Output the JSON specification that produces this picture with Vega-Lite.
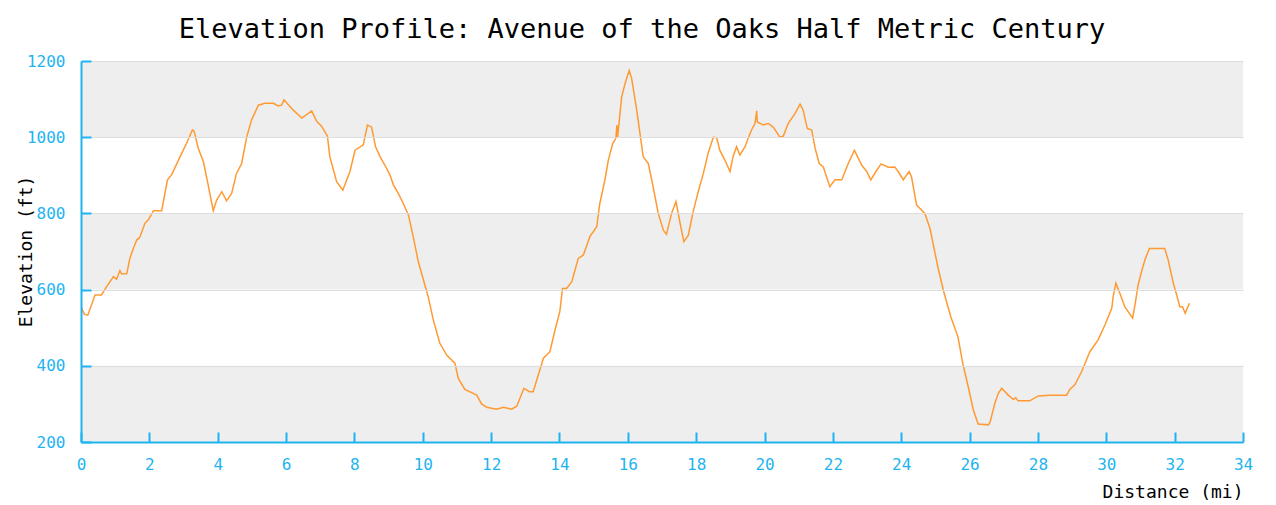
{
  "$schema": "https://vega.github.io/schema/vega-lite/v6.json",
  "width": 1162,
  "height": 381,
  "autosize": {"type": "none"},
  "padding": {"left": 81, "top": 61, "right": 33, "bottom": 63},
  "background": "white",
  "title": {
    "text": "Elevation Profile: Avenue of the Oaks Half Metric Century",
    "font": "DejaVu Sans Mono",
    "fontSize": 27,
    "fontWeight": "normal",
    "color": "black",
    "anchor": "middle",
    "frame": "group",
    "baseline": "alphabetic",
    "offset": -12,
    "dx": -20
  },
  "config": {
    "view": {"stroke": null},
    "axis": {
      "labelFont": "DejaVu Sans Mono",
      "labelFontSize": 16,
      "labelColor": "#1eb4f0",
      "titleFont": "DejaVu Sans Mono",
      "titleFontSize": 18,
      "titleFontWeight": "normal",
      "titleColor": "black",
      "domainColor": "#1eb4f0",
      "domainWidth": 2,
      "tickColor": "#1eb4f0",
      "tickWidth": 2,
      "tickSize": -10
    }
  },
  "datasets": {
    "bands": [
      {"lo": 1000, "hi": 1200},
      {"lo": 600, "hi": 800},
      {"lo": 200, "hi": 400}
    ],
    "profile": [
      {"d": 0.00, "e": 555}, {"d": 0.10, "e": 535}, {"d": 0.20, "e": 533}, {"d": 0.41, "e": 586},
      {"d": 0.60, "e": 586}, {"d": 0.75, "e": 608}, {"d": 0.95, "e": 634}, {"d": 1.04, "e": 627},
      {"d": 1.14, "e": 650}, {"d": 1.19, "e": 641}, {"d": 1.34, "e": 642}, {"d": 1.43, "e": 682},
      {"d": 1.53, "e": 708}, {"d": 1.63, "e": 730}, {"d": 1.72, "e": 737}, {"d": 1.87, "e": 774},
      {"d": 1.97, "e": 783}, {"d": 2.12, "e": 807}, {"d": 2.36, "e": 807}, {"d": 2.53, "e": 888},
      {"d": 2.65, "e": 901}, {"d": 2.90, "e": 949}, {"d": 3.09, "e": 984}, {"d": 3.26, "e": 1019},
      {"d": 3.31, "e": 1016}, {"d": 3.43, "e": 971}, {"d": 3.58, "e": 936}, {"d": 3.72, "e": 875},
      {"d": 3.87, "e": 807}, {"d": 3.97, "e": 835}, {"d": 4.12, "e": 857}, {"d": 4.26, "e": 833},
      {"d": 4.41, "e": 853}, {"d": 4.55, "e": 905}, {"d": 4.70, "e": 931}, {"d": 4.85, "e": 1001},
      {"d": 4.99, "e": 1045}, {"d": 5.19, "e": 1084}, {"d": 5.38, "e": 1089}, {"d": 5.63, "e": 1089},
      {"d": 5.77, "e": 1082}, {"d": 5.87, "e": 1084}, {"d": 5.94, "e": 1098}, {"d": 6.21, "e": 1071},
      {"d": 6.46, "e": 1050}, {"d": 6.75, "e": 1069}, {"d": 6.90, "e": 1041}, {"d": 7.04, "e": 1029},
      {"d": 7.21, "e": 1003}, {"d": 7.28, "e": 949}, {"d": 7.48, "e": 883}, {"d": 7.66, "e": 861},
      {"d": 7.87, "e": 910}, {"d": 8.02, "e": 966}, {"d": 8.26, "e": 980}, {"d": 8.38, "e": 1032},
      {"d": 8.50, "e": 1027}, {"d": 8.62, "e": 975}, {"d": 8.75, "e": 949}, {"d": 8.89, "e": 927},
      {"d": 9.04, "e": 901}, {"d": 9.14, "e": 875}, {"d": 9.28, "e": 853}, {"d": 9.43, "e": 826},
      {"d": 9.58, "e": 796}, {"d": 9.72, "e": 739}, {"d": 9.87, "e": 673}, {"d": 10.02, "e": 625},
      {"d": 10.16, "e": 581}, {"d": 10.31, "e": 520}, {"d": 10.50, "e": 459}, {"d": 10.70, "e": 428},
      {"d": 10.94, "e": 407}, {"d": 11.04, "e": 367}, {"d": 11.23, "e": 338}, {"d": 11.58, "e": 323},
      {"d": 11.72, "e": 300}, {"d": 11.87, "e": 291}, {"d": 12.16, "e": 286}, {"d": 12.36, "e": 291},
      {"d": 12.60, "e": 286}, {"d": 12.75, "e": 294}, {"d": 12.96, "e": 341}, {"d": 13.12, "e": 332},
      {"d": 13.23, "e": 332}, {"d": 13.38, "e": 376}, {"d": 13.53, "e": 420}, {"d": 13.72, "e": 437},
      {"d": 13.87, "e": 494}, {"d": 14.01, "e": 542}, {"d": 14.09, "e": 603}, {"d": 14.21, "e": 603},
      {"d": 14.36, "e": 621}, {"d": 14.55, "e": 682}, {"d": 14.70, "e": 691}, {"d": 14.89, "e": 739},
      {"d": 15.09, "e": 765}, {"d": 15.18, "e": 826}, {"d": 15.33, "e": 888}, {"d": 15.43, "e": 940},
      {"d": 15.56, "e": 984}, {"d": 15.65, "e": 997}, {"d": 15.68, "e": 1032}, {"d": 15.70, "e": 999},
      {"d": 15.82, "e": 1106}, {"d": 15.92, "e": 1141}, {"d": 16.04, "e": 1175}, {"d": 16.11, "e": 1155},
      {"d": 16.26, "e": 1071}, {"d": 16.45, "e": 949}, {"d": 16.60, "e": 931}, {"d": 16.74, "e": 870},
      {"d": 16.89, "e": 800}, {"d": 17.04, "e": 756}, {"d": 17.13, "e": 745}, {"d": 17.28, "e": 800},
      {"d": 17.41, "e": 831}, {"d": 17.53, "e": 774}, {"d": 17.64, "e": 726}, {"d": 17.77, "e": 743},
      {"d": 17.91, "e": 804}, {"d": 18.06, "e": 857}, {"d": 18.21, "e": 905}, {"d": 18.35, "e": 958},
      {"d": 18.50, "e": 1000}, {"d": 18.60, "e": 999}, {"d": 18.69, "e": 966}, {"d": 18.84, "e": 940},
      {"d": 18.99, "e": 910}, {"d": 19.08, "e": 949}, {"d": 19.18, "e": 975}, {"d": 19.28, "e": 953},
      {"d": 19.43, "e": 975}, {"d": 19.52, "e": 997}, {"d": 19.62, "e": 1019}, {"d": 19.72, "e": 1036},
      {"d": 19.77, "e": 1069}, {"d": 19.79, "e": 1040}, {"d": 19.96, "e": 1032}, {"d": 20.11, "e": 1036},
      {"d": 20.26, "e": 1026}, {"d": 20.45, "e": 1000}, {"d": 20.55, "e": 1003}, {"d": 20.69, "e": 1036},
      {"d": 20.89, "e": 1062}, {"d": 21.04, "e": 1087}, {"d": 21.13, "e": 1071}, {"d": 21.25, "e": 1023},
      {"d": 21.38, "e": 1019}, {"d": 21.48, "e": 971}, {"d": 21.60, "e": 931}, {"d": 21.72, "e": 922},
      {"d": 21.91, "e": 870}, {"d": 22.06, "e": 888}, {"d": 22.26, "e": 888}, {"d": 22.45, "e": 931},
      {"d": 22.63, "e": 966}, {"d": 22.84, "e": 927}, {"d": 22.99, "e": 910}, {"d": 23.11, "e": 888},
      {"d": 23.26, "e": 910}, {"d": 23.41, "e": 930}, {"d": 23.62, "e": 921}, {"d": 23.81, "e": 922},
      {"d": 23.91, "e": 910}, {"d": 24.06, "e": 888}, {"d": 24.23, "e": 910}, {"d": 24.30, "e": 896},
      {"d": 24.45, "e": 822}, {"d": 24.69, "e": 800}, {"d": 24.84, "e": 761}, {"d": 24.99, "e": 695},
      {"d": 25.08, "e": 656}, {"d": 25.23, "e": 599}, {"d": 25.45, "e": 529}, {"d": 25.66, "e": 476},
      {"d": 25.81, "e": 402}, {"d": 25.96, "e": 345}, {"d": 26.11, "e": 284}, {"d": 26.25, "e": 247},
      {"d": 26.55, "e": 245}, {"d": 26.60, "e": 252}, {"d": 26.74, "e": 302}, {"d": 26.84, "e": 328},
      {"d": 26.94, "e": 341}, {"d": 27.13, "e": 323}, {"d": 27.28, "e": 312}, {"d": 27.35, "e": 316},
      {"d": 27.42, "e": 308}, {"d": 27.76, "e": 308}, {"d": 28.01, "e": 321}, {"d": 28.35, "e": 323},
      {"d": 28.84, "e": 323}, {"d": 28.93, "e": 338}, {"d": 29.08, "e": 350}, {"d": 29.28, "e": 385},
      {"d": 29.52, "e": 437}, {"d": 29.76, "e": 468}, {"d": 29.96, "e": 507}, {"d": 30.16, "e": 551},
      {"d": 30.20, "e": 581}, {"d": 30.28, "e": 617}, {"d": 30.40, "e": 590}, {"d": 30.54, "e": 555},
      {"d": 30.77, "e": 525}, {"d": 30.84, "e": 560}, {"d": 30.93, "e": 612}, {"d": 31.03, "e": 647},
      {"d": 31.13, "e": 678}, {"d": 31.26, "e": 708}, {"d": 31.71, "e": 708}, {"d": 31.81, "e": 678},
      {"d": 31.96, "e": 617}, {"d": 32.06, "e": 586}, {"d": 32.15, "e": 555}, {"d": 32.23, "e": 555},
      {"d": 32.31, "e": 538}, {"d": 32.43, "e": 564}
    ]
  },
  "layer": [
    {
      "data": {"name": "bands"},
      "mark": {"type": "rect", "color": "#eeeeee"},
      "encoding": {
        "y": {
          "field": "lo", "type": "quantitative",
          "scale": {"domain": [200, 1200], "nice": false, "zero": false},
          "axis": {
            "values": [200, 400, 600, 800, 1000, 1200],
            "format": "d",
            "grid": true,
            "gridColor": "#dddddd",
            "gridWidth": 1,
            "zindex": 1,
            "labelPadding": 26,
            "title": "Elevation (ft)",
            "titleBaseline": "alphabetic",
            "titleAlign": "center",
            "titleX": -50,
            "titleY": 190
          }
        },
        "y2": {"field": "hi"}
      }
    },
    {
      "data": {"name": "profile"},
      "mark": {"type": "line", "color": "#ff9a33", "strokeWidth": 1.5, "clip": true},
      "encoding": {
        "x": {
          "field": "d", "type": "quantitative",
          "scale": {"domain": [0, 34], "nice": false, "zero": false},
          "axis": {
            "values": [0, 2, 4, 6, 8, 10, 12, 14, 16, 18, 20, 22, 24, 26, 28, 30, 32, 34],
            "grid": false,
            "zindex": 1,
            "labelPadding": 24,
            "labelFlush": false,
            "title": "Distance (mi)",
            "titleAnchor": "end",
            "titleAlign": "right",
            "titleBaseline": "alphabetic",
            "titleY": 55
          }
        },
        "y": {"field": "e", "type": "quantitative"}
      }
    }
  ]
}
